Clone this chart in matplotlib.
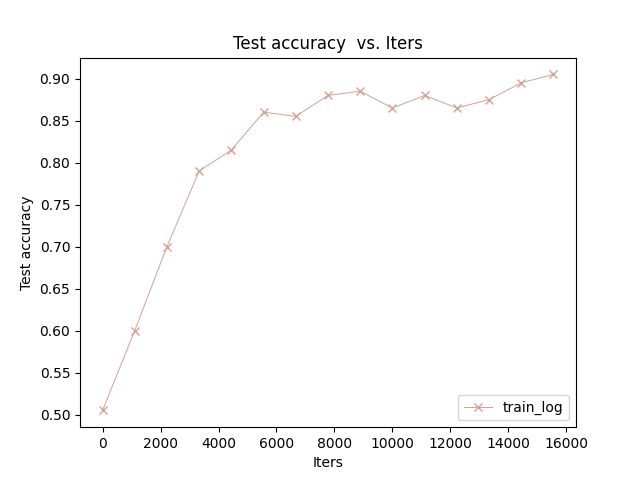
import matplotlib
matplotlib.use('Agg')
import matplotlib.pyplot as plt

iters = [0, 1111, 2222, 3333, 4444, 5555, 6666, 7777, 8888, 9999,
         11110, 12221, 13332, 14443, 15554]
accuracy = [0.505, 0.60, 0.70, 0.79, 0.815, 0.86, 0.855, 0.88, 0.885,
            0.865, 0.88, 0.865, 0.875, 0.895, 0.905]

fig, ax = plt.subplots(figsize=(6.4, 4.8), dpi=100)
ax.plot(iters, accuracy, 'x-', color='#d4a196', linewidth=0.7,
        markersize=6, label='train_log')

plt.title('Test accuracy  vs. Iters')
plt.xlabel('Iters')
plt.ylabel('Test accuracy')
ax.legend(loc='lower right')

plt.savefig('out.png', dpi=100)
